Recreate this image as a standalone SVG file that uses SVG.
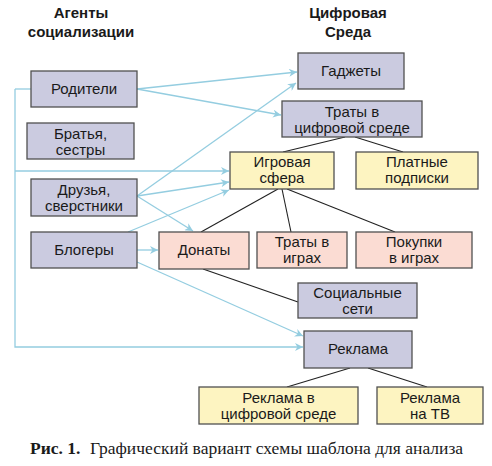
<svg xmlns="http://www.w3.org/2000/svg" width="492" height="466" viewBox="0 0 492 466">
<style>
.n rect{stroke:#505050;stroke-width:1.3}
.g rect{fill:#cbcbe0}
.y rect{fill:#fdf4c1}
.p rect{fill:#fbdcd3}
text{font-family:"Liberation Sans",Arial,sans-serif;font-size:15px;fill:#1a1a1a;text-anchor:middle}
.h{font-weight:bold;font-size:15px}
.c{font-family:"Liberation Serif","Times New Roman",serif;font-size:17.5px;text-anchor:start}
.bl{fill:none;stroke:#94cde0;stroke-width:1.3}
.k{fill:none;stroke:#222;stroke-width:1.1}
</style>
<defs>
<marker id="a" viewBox="0 0 10 10" refX="10" refY="5" markerWidth="10" markerHeight="8" markerUnits="userSpaceOnUse" orient="auto">
<path d="M0,0 L10,5 L0,10 L3,5 z" fill="#94cde0"/>
</marker>
</defs>
<rect width="492" height="466" fill="#fff"/>
<g id="headers">
<text class="h" x="81" y="18">Агенты</text>
<text class="h" x="81" y="37">социализации</text>
<text class="h" x="348" y="18">Цифровая</text>
<text class="h" x="348" y="37">Среда</text>
</g>
<g id="connectors">
<path class="bl" d="M15,89 H31"/>
<path class="bl" d="M15,89 V347 H303" marker-end="url(#a)"/>
<path class="bl" d="M15,171 H229" marker-end="url(#a)"/>
<path class="bl" d="M137,89 L297,72" marker-end="url(#a)"/>
<path class="bl" d="M137,89 L281,115" marker-end="url(#a)"/>
<path class="bl" d="M137,196 L296,83" marker-end="url(#a)"/>
<path class="bl" d="M137,196 L229,182" marker-end="url(#a)"/>
<path class="bl" d="M137,196 L193,231" marker-end="url(#a)"/>
<path class="bl" d="M128,232 L229,190" marker-end="url(#a)"/>
<path class="bl" d="M137,250 L158,250" marker-end="url(#a)"/>
<path class="bl" d="M137,262 L303,336" marker-end="url(#a)"/>
<path class="k" d="M345,137 L283,152"/>
<path class="k" d="M355,137 L403,152"/>
<path class="k" d="M278,189 L201,232"/>
<path class="k" d="M282,189 L291,232"/>
<path class="k" d="M287,189 L395,232"/>
<path class="k" d="M203,269 L298,302"/>
<path class="k" d="M350,368 L287,387"/>
<path class="k" d="M368,368 L427,387"/>
</g>
<g id="roditeli" class="n g"><rect x="31" y="71" width="106" height="36"/><text x="84" y="94">Родители</text></g>
<g id="bratya" class="n g"><rect x="27" y="123" width="107" height="36"/><text x="80.5" y="139">Братья,</text><text x="80.5" y="155">сестры</text></g>
<g id="druzya" class="n g"><rect x="31" y="179" width="106" height="37"/><text x="84" y="195">Друзья,</text><text x="84" y="211">сверстники</text></g>
<g id="blogery" class="n g"><rect x="31" y="232" width="106" height="36"/><text x="84" y="255">Блогеры</text></g>
<g id="donaty" class="n p"><rect x="159" y="232" width="90" height="37"/><text x="204" y="255">Донаты</text></g>
<g id="gadzhety" class="n g"><rect x="298" y="53" width="106" height="36"/><text x="351" y="76">Гаджеты</text></g>
<g id="traty-cifr" class="n g"><rect x="282" y="101" width="140" height="36"/><text x="352" y="117">Траты в</text><text x="352" y="133">цифровой среде</text></g>
<g id="igrovaya" class="n y"><rect x="230" y="152" width="104" height="37"/><text x="282" y="167">Игровая</text><text x="282" y="183">сфера</text></g>
<g id="platnye" class="n y"><rect x="356" y="152" width="122" height="37"/><text x="417" y="167">Платные</text><text x="417" y="183">подписки</text></g>
<g id="traty-igry" class="n p"><rect x="257" y="232" width="90" height="36"/><text x="302" y="247">Траты в</text><text x="302" y="263">играх</text></g>
<g id="pokupki" class="n p"><rect x="356" y="232" width="116" height="36"/><text x="414" y="247">Покупки</text><text x="414" y="263">в играх</text></g>
<g id="socseti" class="n g"><rect x="298" y="283" width="119" height="35"/><text x="357.5" y="298">Социальные</text><text x="357.5" y="314">сети</text></g>
<g id="reklama" class="n g"><rect x="304" y="331" width="108" height="37"/><text x="358" y="354">Реклама</text></g>
<g id="reklama-cifr" class="n y"><rect x="199" y="387" width="159" height="37"/><text x="278.5" y="403">Реклама в</text><text x="278.5" y="419">цифровой среде</text></g>
<g id="reklama-tv" class="n y"><rect x="377" y="387" width="106" height="37"/><text x="430" y="403">Реклама</text><text x="430" y="419">на ТВ</text></g>
<text class="c" x="30" y="454"><tspan font-weight="bold">Рис. 1.</tspan><tspan x="90">Графический вариант схемы шаблона для анализа</tspan></text>
</svg>
